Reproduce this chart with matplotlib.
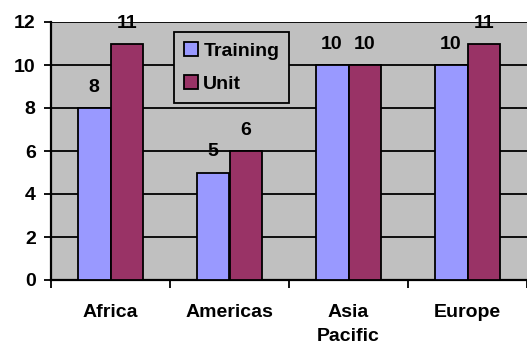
import matplotlib
matplotlib.use("Agg")
import matplotlib.pyplot as plt
import numpy as np

categories = ["Africa", "Americas", "Asia\nPacific", "Europe"]
training = [8, 5, 10, 10]
unit = [11, 6, 10, 11]
series_names = ["Training", "Unit"]
yticks = [0, 2, 4, 6, 8, 10, 12]

plt.rcParams['font.family'] = ['Liberation Sans', 'DejaVu Sans']
plt.rcParams['font.weight'] = 'bold'
FS = 14

fig = plt.figure(figsize=(5.27, 3.46), dpi=100)
ax = fig.add_axes([51/527, 66/346, 476/527, 258/346])
ax.set_facecolor('#C0C0C0')

x = np.arange(len(categories))
w = 0.277
ax.set_axisbelow(True)
ax.yaxis.grid(True, color='black', linewidth=1.3)
b1 = ax.bar(x - w/2, training, w, color='#9999FF', edgecolor='black', linewidth=1.3, label=series_names[0], zorder=3)
b2 = ax.bar(x + w/2, unit, w, color='#993366', edgecolor='black', linewidth=1.3, label=series_names[1], zorder=3)

for bars, vals in ((b1, training), (b2, unit)):
    for r, v in zip(bars, vals):
        ax.annotate(str(v), (r.get_x() + r.get_width()/2, v), xytext=(0, 12),
                    textcoords='offset pixels', ha='center', va='bottom',
                    fontsize=FS, fontweight='bold', annotation_clip=False)

ax.set_xlim(-0.5, len(categories) - 0.5)
ax.set_ylim(0, 12)
ax.set_yticks(yticks)
ax.tick_params(axis='y', length=5, width=1.3, pad=6, labelsize=FS)
ax.set_xticks(np.arange(len(categories) + 1) - 0.5)
ax.set_xticklabels([])
ax.tick_params(axis='x', which='major', length=6, width=1.3)
ax.set_xticks(x, minor=True)
ax.set_xticklabels(categories, minor=True, fontsize=FS, fontweight='bold', linespacing=1.6)
ax.tick_params(axis='x', which='minor', length=0, pad=17)

for s in ('top', 'right'):
    ax.spines[s].set_visible(False)
for s in ('left', 'bottom'):
    ax.spines[s].set_linewidth(1.6)

leg = ax.legend(loc='upper left', bbox_to_anchor=(0.258, 0.961), borderaxespad=0,
                fancybox=False, framealpha=1, facecolor='#C0C0C0', edgecolor='black',
                prop={'size': FS, 'weight': 'bold'}, handlelength=0.72, handleheight=0.72,
                handletextpad=0.3, labelspacing=0.8, borderpad=0.5)
leg.get_frame().set_linewidth(1.3)

fig.savefig('out.png', dpi=100)
